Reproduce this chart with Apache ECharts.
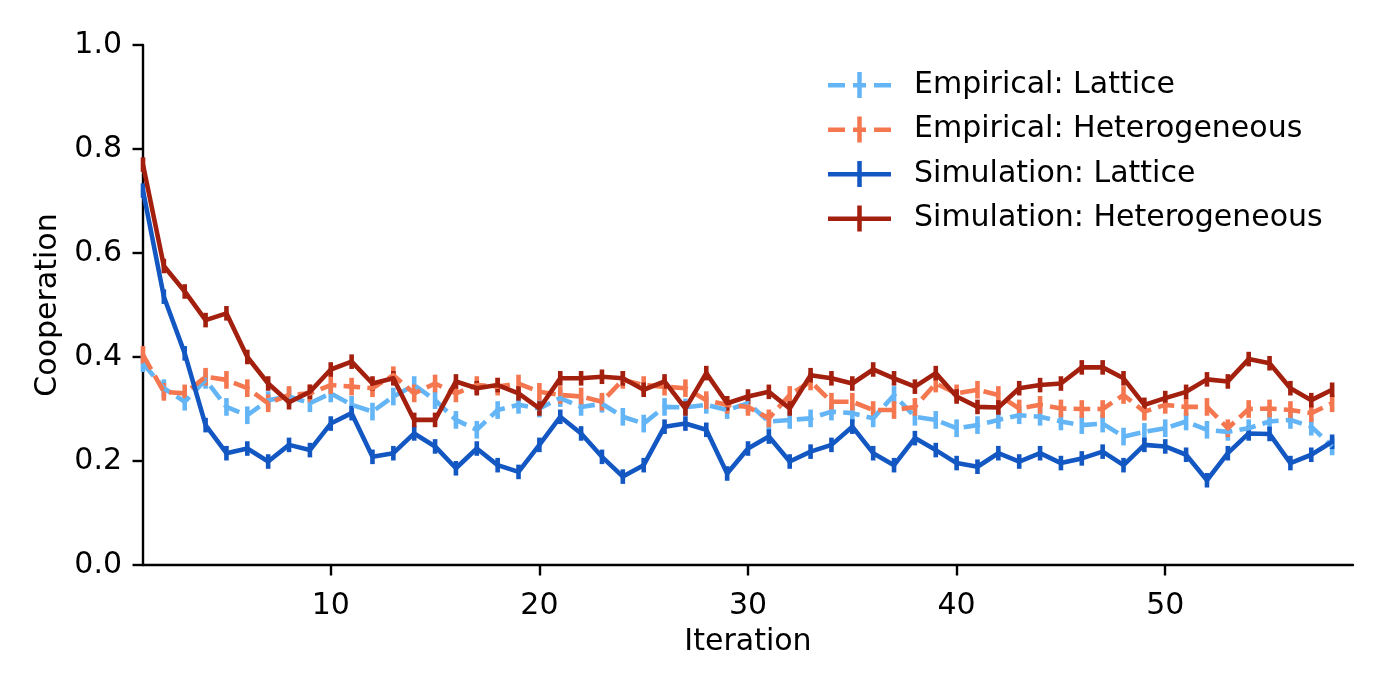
<!DOCTYPE html>
<html>
<head>
<meta charset="utf-8">
<script src="https://cdn.jsdelivr.net/npm/echarts@6/dist/echarts.min.js"></script>
<style>
html,body{margin:0;padding:0;background:#fff;}
#chart{width:1383px;height:692px;}
</style>
</head>
<body>
<div id="chart"></div>
<script>
const iterations = [1,2,3,4,5,6,7,8,9,10,11,12,13,14,15,16,17,18,19,20,21,22,23,24,25,26,27,28,29,30,31,32,33,34,35,36,37,38,39,40,41,42,43,44,45,46,47,48,49,50,51,52,53,54,55,56,57,58];

const empiricalLattice = [0.388,0.340,0.314,0.356,0.304,0.288,0.317,0.324,0.311,0.330,0.308,0.295,0.324,0.346,0.317,0.279,0.260,0.298,0.308,0.301,0.321,0.304,0.310,0.285,0.272,0.304,0.303,0.308,0.298,0.311,0.276,0.279,0.282,0.295,0.292,0.282,0.327,0.285,0.279,0.263,0.269,0.279,0.288,0.285,0.276,0.269,0.272,0.247,0.256,0.263,0.276,0.260,0.256,0.263,0.276,0.279,0.266,0.228];

const empiricalHeterogeneous = [0.404,0.333,0.330,0.362,0.356,0.340,0.311,0.327,0.330,0.346,0.343,0.340,0.365,0.330,0.349,0.330,0.346,0.343,0.349,0.333,0.327,0.324,0.314,0.356,0.346,0.343,0.340,0.317,0.308,0.304,0.282,0.327,0.353,0.314,0.314,0.298,0.298,0.304,0.349,0.330,0.337,0.327,0.301,0.308,0.301,0.300,0.300,0.327,0.295,0.308,0.304,0.304,0.263,0.300,0.301,0.298,0.292,0.311];

const simulationLattice = [0.720,0.516,0.407,0.269,0.215,0.224,0.199,0.231,0.221,0.272,0.292,0.208,0.215,0.253,0.228,0.186,0.224,0.192,0.179,0.231,0.285,0.253,0.208,0.170,0.192,0.266,0.272,0.260,0.176,0.224,0.247,0.199,0.218,0.231,0.266,0.215,0.192,0.244,0.221,0.196,0.189,0.215,0.199,0.215,0.196,0.205,0.218,0.192,0.231,0.228,0.212,0.163,0.215,0.253,0.252,0.196,0.212,0.237];

const simulationHeterogeneous = [0.770,0.575,0.526,0.471,0.484,0.400,0.349,0.313,0.333,0.376,0.391,0.349,0.359,0.279,0.279,0.353,0.340,0.346,0.330,0.301,0.359,0.359,0.362,0.359,0.337,0.353,0.301,0.369,0.311,0.324,0.333,0.301,0.365,0.359,0.349,0.376,0.359,0.343,0.369,0.324,0.304,0.303,0.340,0.346,0.349,0.380,0.380,0.359,0.308,0.321,0.333,0.357,0.353,0.396,0.388,0.340,0.317,0.337];

// error bar half-lengths
const empiricalError = 0.017;
const simulationError = 0.014;

const xTicks = [10,20,30,40,50];
const seriesNames = ['Empirical: Lattice','Empirical: Heterogeneous','Simulation: Lattice','Simulation: Heterogeneous'];
const colors = ['#64b5f6','#f4774f','#1357c2','#a31f0e'];

const FONT = 'DejaVu Sans';
const LW = 4.6;
const DASH = [16.6, 7.2];

const iconSolid = 'path://M0,11L63,11L63,15.5L0,15.5Z M29.25,0L33.75,0L33.75,26L29.25,26Z';
const iconDashed = 'path://M0,11L17,11L17,15.5L0,15.5Z M25,11L38,11L38,15.5L25,15.5Z M46,11L63,11L63,15.5L46,15.5Z M29.25,0L33.75,0L33.75,26L29.25,26Z';

function lineSeries(name, values, color, dashed) {
  return {
    name: name,
    type: 'line',
    data: iterations.map((x, i) => [x, values[i]]),
    showSymbol: false,
    symbol: 'none',
    color: color,
    lineStyle: {color: color, width: LW, type: dashed ? DASH : 'solid', cap: 'butt', join: 'round'},
    itemStyle: {color: color},
    emphasis: {disabled: true},
    z: 2
  };
}
function errSeries(name, values, err, color) {
  return {
    name: name + ' err',
    type: 'custom',
    data: iterations.map((x, i) => [x, values[i] - err, values[i] + err]),
    renderItem: function (params, api) {
      const p1 = api.coord([api.value(0), api.value(1)]);
      const p2 = api.coord([api.value(0), api.value(2)]);
      return {type: 'line', shape: {x1: p1[0], y1: p1[1], x2: p2[0], y2: p2[1]},
              style: {stroke: color, lineWidth: LW}};
    },
    encode: {x: 0, y: [1, 2]},
    silent: true,
    z: 2
  };
}

const chart = echarts.init(document.getElementById('chart'), null, {renderer: 'canvas'});
chart.setOption({
  animation: false,
  backgroundColor: '#fff',
  textStyle: {fontFamily: FONT},
  grid: {left: 143, right: 30, top: 45, bottom: 127},
  legend: {
    orient: 'vertical',
    left: 828, top: 70,
    padding: 0,
    itemWidth: 63, itemHeight: 26, itemGap: 14.5,
    selectedMode: false,
    data: [
      {name: seriesNames[0], icon: iconDashed, itemStyle: {color: colors[0]}},
      {name: seriesNames[1], icon: iconDashed, itemStyle: {color: colors[1]}},
      {name: seriesNames[2], icon: iconSolid, itemStyle: {color: colors[2]}},
      {name: seriesNames[3], icon: iconSolid, itemStyle: {color: colors[3]}}
    ],
    textStyle: {fontSize: 30, fontFamily: FONT, color: '#000', padding: [0, 0, 0, 18]}
  },
  xAxis: {
    type: 'value', min: 1, max: 59,
    name: 'Iteration', nameLocation: 'middle', nameGap: 62,
    nameTextStyle: {fontSize: 30, fontFamily: FONT, color: '#000'},
    axisLine: {show: true, onZero: false, lineStyle: {color: '#000', width: 2.4}},
    axisTick: {show: true, length: 10.5, lineStyle: {color: '#000', width: 2.4}, customValues: xTicks},
    axisLabel: {fontSize: 30, fontFamily: FONT, color: '#000', margin: 26, customValues: xTicks},
    splitLine: {show: false}
  },
  yAxis: {
    type: 'value', min: 0, max: 1, interval: 0.2,
    name: 'Cooperation', nameLocation: 'middle', nameGap: 79,
    nameTextStyle: {fontSize: 30, fontFamily: FONT, color: '#000'},
    axisLine: {show: true, lineStyle: {color: '#000', width: 2.4}},
    axisTick: {show: true, length: 10.5, lineStyle: {color: '#000', width: 2.4}},
    axisLabel: {fontSize: 30, fontFamily: FONT, color: '#000', margin: 21, formatter: v => v.toFixed(1)},
    splitLine: {show: false}
  },
  series: [
    lineSeries(seriesNames[0], empiricalLattice, colors[0], true),
    errSeries(seriesNames[0], empiricalLattice, empiricalError, colors[0]),
    lineSeries(seriesNames[1], empiricalHeterogeneous, colors[1], true),
    errSeries(seriesNames[1], empiricalHeterogeneous, empiricalError, colors[1]),
    lineSeries(seriesNames[2], simulationLattice, colors[2], false),
    errSeries(seriesNames[2], simulationLattice, simulationError, colors[2]),
    lineSeries(seriesNames[3], simulationHeterogeneous, colors[3], false),
    errSeries(seriesNames[3], simulationHeterogeneous, simulationError, colors[3])
  ]
});
</script>
</body>
</html>
